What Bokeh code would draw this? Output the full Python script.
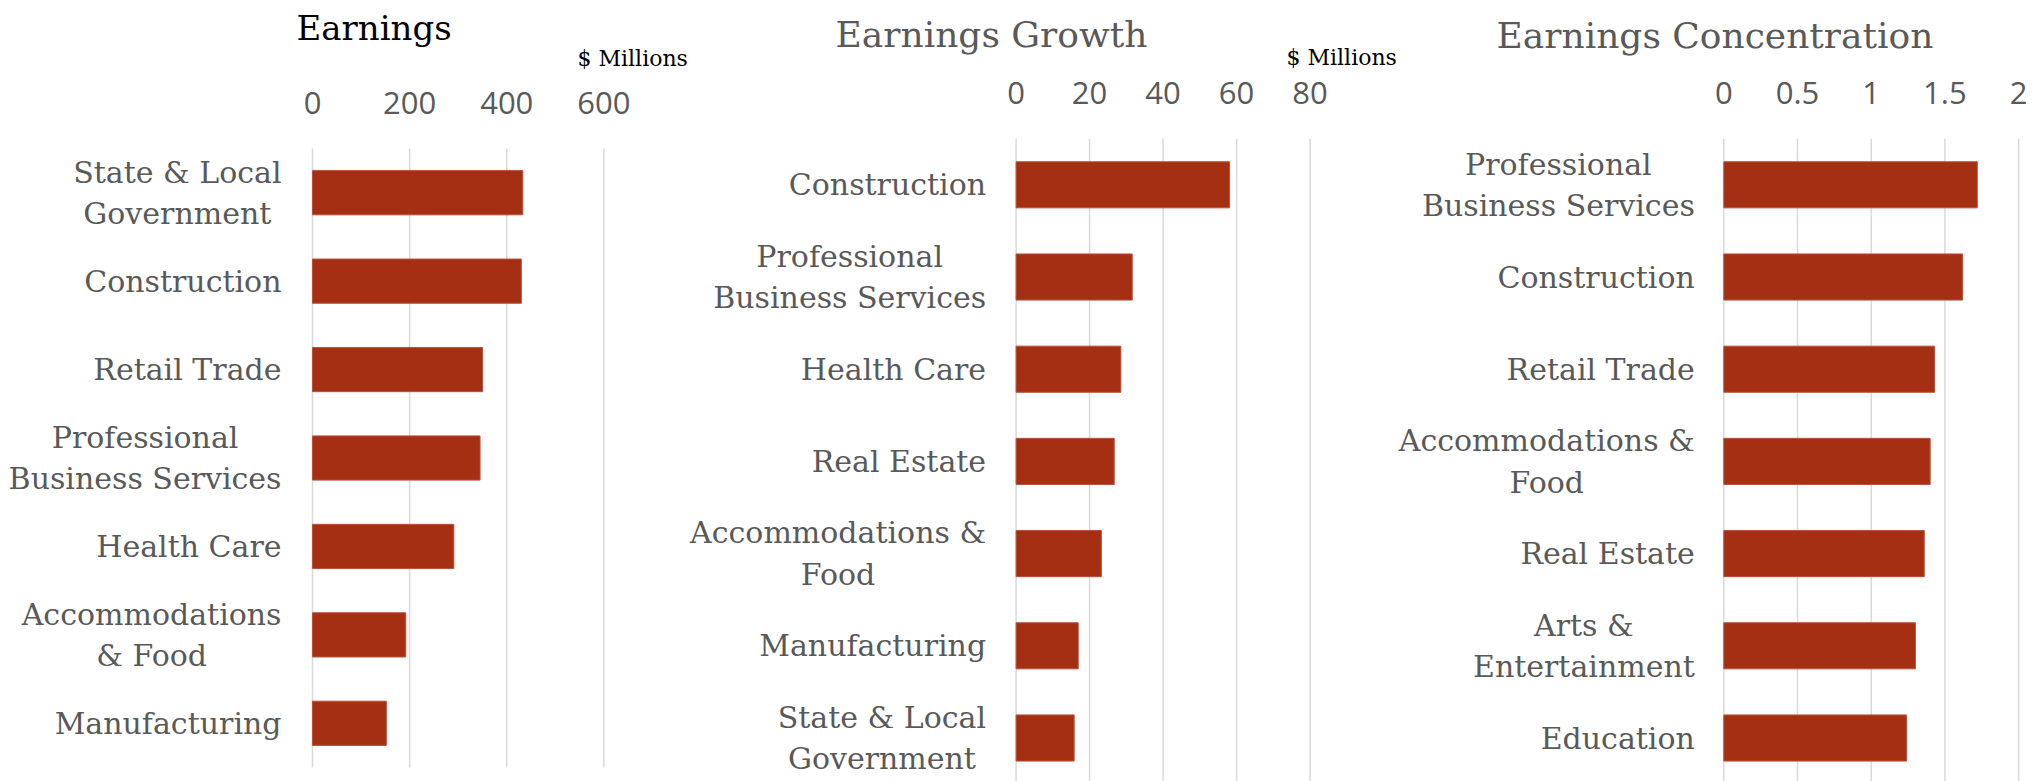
from bokeh.plotting import figure
from bokeh.models import Range1d, FixedTicker, Label, LinearAxis
from bokeh.core.properties import value
from bokeh.embed import file_html
from bokeh.resources import INLINE

# ---------------- data ----------------
titles = ["Earnings", "Earnings Growth", "Earnings Concentration"]
unit_label = "$ Millions"

cats1 = ["State & Local\nGovernment", "Construction", "Retail Trade",
         "Professional\nBusiness Services", "Health Care",
         "Accommodations\n& Food", "Manufacturing"]
vals1 = [433, 430, 350, 345, 291, 192, 152]
ticks1 = [0, 200, 400, 600]
tick_labels1 = ["0", "200", "400", "600"]

cats2 = ["Construction", "Professional\nBusiness Services", "Health Care",
         "Real Estate", "Accommodations &\nFood", "Manufacturing",
         "State & Local\nGovernment"]
vals2 = [58.1, 31.6, 28.5, 26.7, 23.2, 16.9, 15.8]
ticks2 = [0, 20, 40, 60, 80]
tick_labels2 = ["0", "20", "40", "60", "80"]

cats3 = ["Professional\nBusiness Services", "Construction", "Retail Trade",
         "Accommodations &\nFood", "Real Estate", "Arts &\nEntertainment",
         "Education"]
vals3 = [1.72, 1.62, 1.43, 1.40, 1.36, 1.30, 1.24]
ticks3 = [0, 0.5, 1, 1.5, 2]
tick_labels3 = ["0", "0.5", "1", "1.5", "2"]

# ---------------- style / layout ----------------
W, H = 2039, 781
BAR_COLOR = "#A52F12"
BAR_EDGE = "#B9503A"
GRID_COLOR = "#D9D9D9"
TEXT_GRAY = "#595959"
SERIF = "DejaVu Serif"
SANS = "Open Sans"

p = figure(width=W, height=H, x_range=Range1d(0, W), y_range=Range1d(H, 0),
           x_axis_location=None, y_axis_location=None,
           toolbar_location=None, output_backend="svg", min_border=0)
p.outline_line_color = None
p.background_fill_color = "white"
p.border_fill_color = "white"
p.grid.visible = False


def panel(name, cats, vals, ticks, tick_labels, px0, px1, top, slot, gap):
    """px0/px1: pixel of value 0 and of the last tick; top: pixel of plot top;
    slot: pixel height of one category band."""
    n = len(cats)
    idx = list(range(n))
    vmax = ticks[-1]
    k = (px1 - px0) / vmax
    p.extra_x_ranges[name] = Range1d(start=-px0 / k, end=(W - px0) / k)
    p.extra_y_ranges[name] = Range1d(start=(H - top) / slot - 0.5,
                                     end=(0 - top) / slot - 0.5)
    # vertical grid lines at the ticks, spanning the category bands
    p.segment(x0=ticks, x1=ticks, y0=[-0.5] * len(ticks),
              y1=[n - 0.5] * len(ticks), line_color=GRID_COLOR,
              line_width=1.5, x_range_name=name, y_range_name=name)
    p.hbar(y=idx, right=vals, left=0, height=0.5, fill_color=BAR_COLOR,
           line_color=BAR_EDGE, line_width=1,
           x_range_name=name, y_range_name=name)
    p.text(x=[0] * n, y=idx, text=cats, x_offset=-gap,
           text_font=value(SERIF), text_font_size="30px",
           text_color=TEXT_GRAY, text_align="center",
           text_baseline="middle", anchor="center_right",
           text_line_height=1.18, x_range_name=name, y_range_name=name)
    ax = LinearAxis(x_range_name=name, fixed_location=top)
    ax.ticker = FixedTicker(ticks=ticks)
    ax.major_label_overrides = {t: s for t, s in zip(ticks, tick_labels)}
    ax.axis_line_color = None
    ax.major_tick_line_color = None
    ax.minor_tick_line_color = None
    ax.major_tick_out = 0
    ax.major_tick_in = 0
    ax.major_label_standoff = 35
    ax.major_label_text_font = SANS
    ax.major_label_text_font_size = "31px"
    ax.major_label_text_color = TEXT_GRAY
    p.add_layout(ax, "above")


panel("p1", cats1, vals1, ticks1, tick_labels1, px0=312, px1=603.4,
      top=148, slot=619 / 7, gap=31)
panel("p2", cats2, vals2, ticks2, tick_labels2, px0=1015.6, px1=1309.6,
      top=138.2, slot=92.2, gap=30)
panel("p3", cats3, vals3, ticks3, tick_labels3, px0=1723.3, px1=2018.1,
      top=138.2, slot=92.2, gap=29)

# titles and unit notes (page pixel coordinates)
p.add_layout(Label(x=296, y=27, text=titles[0], text_font=SERIF,
                   text_font_size="34px", text_color="black",
                   text_baseline="alphabetic"))
p.add_layout(Label(x=835, y=34, text=titles[1], text_font=SERIF,
                   text_font_size="36px", text_color=TEXT_GRAY,
                   text_baseline="alphabetic"))
p.add_layout(Label(x=1496, y=35, text=titles[2], text_font=SERIF,
                   text_font_size="36px", text_color=TEXT_GRAY,
                   text_baseline="alphabetic"))
p.add_layout(Label(x=577, y=57.5, text=unit_label, text_font=SERIF,
                   text_font_size="22px", text_color="black",
                   text_baseline="alphabetic"))
p.add_layout(Label(x=1286, y=57, text=unit_label, text_font=SERIF,
                   text_font_size="22px", text_color="black",
                   text_baseline="alphabetic"))

open("out.html", "w").write(file_html(p, INLINE))
